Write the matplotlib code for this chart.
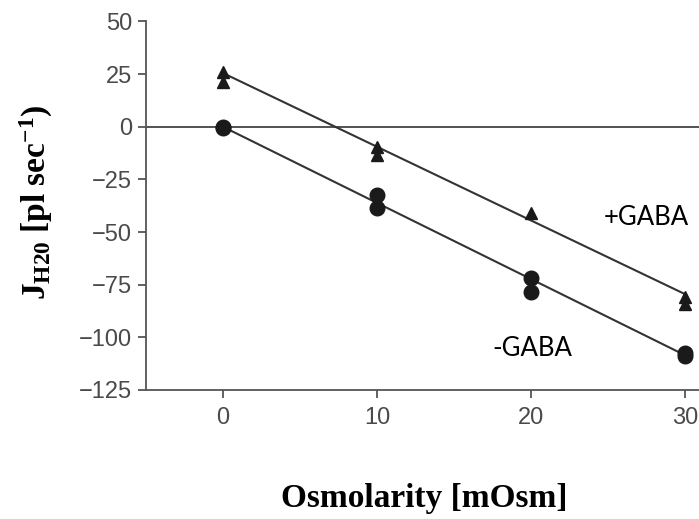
import numpy as np
import matplotlib
matplotlib.use("Agg")
import matplotlib.pyplot as plt

# Data
x_plus = [0, 0, 10, 10, 20, 30, 30]
y_plus = [26, 21.5, -9.5, -13.5, -41, -81, -84]
x_minus = [0, 0, 10, 10, 20, 20, 30, 30]
y_minus = [0, -0.5, -32.5, -38.5, -72, -78.5, -107.5, -109]
fit_x = [0, 30]
fit_plus = [25.5, -79.5]
fit_minus = [0, -108.5]
xticks = [0, 10, 20, 30]
yticks = [50, 25, 0, -25, -50, -75, -100, -125]

plt.rcParams['mathtext.fontset'] = 'custom'
plt.rcParams['mathtext.rm'] = 'Liberation Serif:bold'
plt.rcParams['mathtext.bf'] = 'Liberation Serif:bold'
plt.rcParams['mathtext.it'] = 'Liberation Serif:bold'

fig = plt.figure(figsize=(6.99, 5.19), dpi=100)
ax = fig.add_axes([146/699, 129/519, 1 - 146/699, (390 - 21.5)/519])

axcol = '#555555'
ax.axhline(0, color='#444444', lw=1.3, zorder=1)
ax.plot(fit_x, fit_plus, color='#333333', lw=1.5, zorder=2)
ax.plot(fit_x, fit_minus, color='#333333', lw=1.5, zorder=2)
ax.plot(x_plus, y_plus, linestyle='none', marker='^', ms=9, color='#1a1a1a', zorder=3)
ax.plot(x_minus, y_minus, linestyle='none', marker='o', ms=10.5, color='#1a1a1a', zorder=3)

ax.set_xlim(-5, 30.9)
ax.set_ylim(-125, 50)
ax.set_xticks(xticks)
ax.set_yticks(yticks)
for s in ['top', 'right']:
    ax.spines[s].set_visible(False)
for s in ['left', 'bottom']:
    ax.spines[s].set_color(axcol)
    ax.spines[s].set_linewidth(1.3)
ax.tick_params(axis='both', colors=axcol, labelcolor='#4a4a4a', labelsize=17,
               length=6, width=1.3, direction='out')
ax.tick_params(axis='y', pad=4)
ax.tick_params(axis='x', pad=6)
for lab in ax.get_xticklabels() + ax.get_yticklabels():
    lab.set_fontfamily('Liberation Sans')
ax.patch.set_alpha(0)

ax.text(24.7, -43, '+GABA', fontsize=18.5, family='Lato', va='center', ha='left')
ax.text(17.5, -105.5, '-GABA', fontsize=18.5, family='Lato', va='center', ha='left')

fig.text(424/699, 1 - 498/519, 'Osmolarity [mOsm]', family='Liberation Serif',
         weight='bold', fontsize=24, ha='center', va='center')
fig.text(36/699, 1 - 202/519, r'$\mathrm{J}_{\mathrm{H20}}$ [pl sec$^{-1}$)',
         family='Liberation Serif', weight='bold', fontsize=24, rotation=90,
         ha='center', va='center')

fig.savefig('out.png', dpi=100)
